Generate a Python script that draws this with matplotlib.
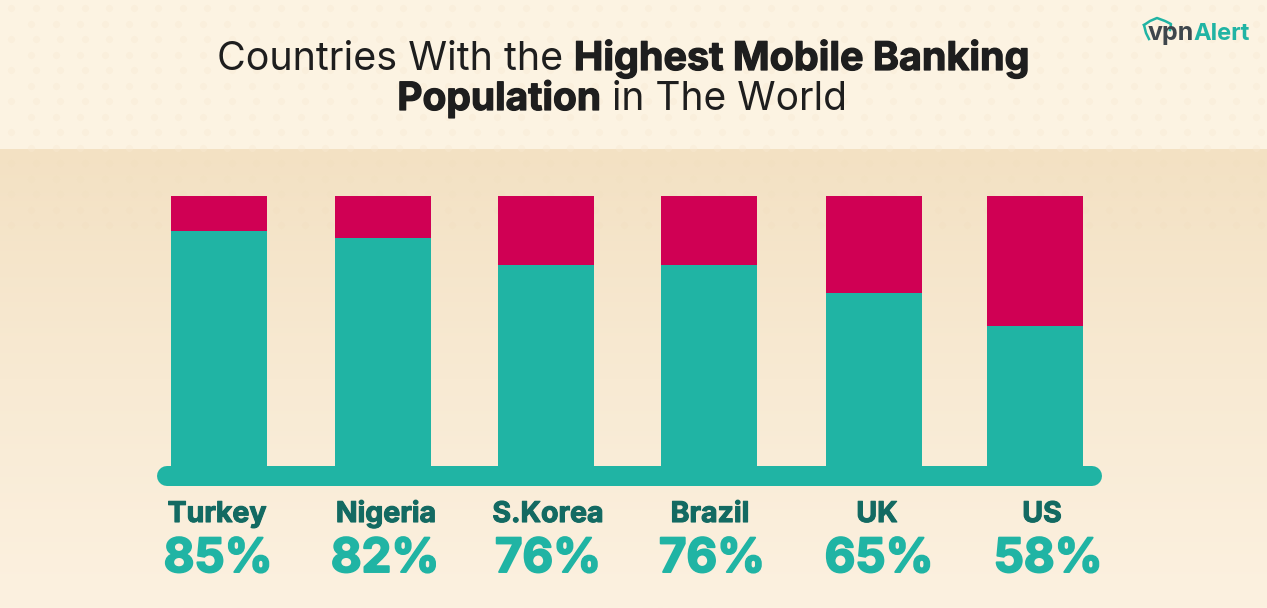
import matplotlib
matplotlib.use("Agg")
import matplotlib.pyplot as plt
import numpy as np
import matplotlib.patheffects as pe
from matplotlib.colors import LinearSegmentedColormap

countries = ["Turkey", "Nigeria", "S.Korea", "Brazil", "UK", "US"]
labels = ["85%", "82%", "76%", "76%", "65%", "58%"]
# bar heights as drawn in the picture (share of the full column)
teal_heights = [87.0, 84.6, 74.4, 74.4, 64.0, 51.9]
red_heights = [13.0, 15.4, 25.6, 25.6, 36.0, 48.1]

TEAL = "#20B4A4"
RED = "#D00054"
DARK_TEAL = "#136A62"
INK = "#1E1E1E"
FONT = "Inter"

bar_centers = [219, 383, 546, 709, 874, 1035]
label_centers = [217, 386, 548, 710, 877, 1042]
pct_centers = [219, 386, 549, 713, 880, 1049]

W, H = 1267, 608
fig = plt.figure(figsize=(W / 100, H / 100), dpi=100)
bg = fig.add_axes([0, 0, 1, 1])
bg.axis("off")

bg.add_patch(plt.Rectangle((0, 0), W, 149, color="#FCF3E2", lw=0, zorder=0))
cmap = LinearSegmentedColormap.from_list("sand", ["#F3E1C3", "#F8EAD3", "#FCF1E0"])
bg.imshow(np.linspace(0, 1, 256).reshape(-1, 1), extent=(0, W, H, 149), aspect="auto",
          cmap=cmap, zorder=0)
bg.set_xlim(0, W)
bg.set_ylim(H, 0)

# faint dot texture
dx, dy = [], []
for r, yy in enumerate(np.arange(8, 240, 15.5)):
    for xx in np.arange(11 + (r % 2) * 20, W, 24.5):
        dx.append(xx)
        dy.append(yy)
dx, dy = np.array(dx), np.array(dy)
top = dy < 149
bg.scatter(dx[top], dy[top], s=26, color="#F9EAD3", alpha=0.4, lw=0, zorder=1)
bg.scatter(dx[~top], dy[~top], s=26, color="#F1DDBC", alpha=0.2, lw=0, zorder=1)

# stacked columns
chart = fig.add_axes([0, (H - 466) / H, 1, (466 - 196) / H])
chart.patch.set_alpha(0)
chart.set_xlim(0, W)
chart.set_ylim(0, 100)
chart.axis("off")
chart.bar(bar_centers, teal_heights, width=96, color=TEAL, lw=0)
chart.bar(bar_centers, red_heights, width=96, bottom=teal_heights, color=RED, lw=0)

# base rail
bg.plot([167, 1092], [476, 476], color=TEAL, lw=14.4, solid_capstyle="round", zorder=3)


def thick(w, color):
    return [pe.withStroke(linewidth=w, foreground=color)]


def run_line(parts, cx, y, size):
    renderer = fig.canvas.get_renderer()
    arts = []
    for s, w, stroke in parts:
        a = bg.text(0, y, s, fontsize=size, fontweight=w, color=INK, family=FONT,
                    va="baseline", ha="left", zorder=5)
        if stroke:
            a.set_path_effects(thick(stroke, INK))
        arts.append(a)
    widths = [a.get_window_extent(renderer).width for a in arts]
    x = cx - sum(widths) / 2
    for a, wd in zip(arts, widths):
        a.set_x(x)
        x += wd


run_line([("Countries With the ", "normal", 0), ("Highest Mobile Banking", "bold", 0.9)], 623, 70, 28.4)
run_line([("Population", "bold", 0.9), (" in The World", "normal", 0)], 622, 110, 28)

for cx, px, c, l in zip(label_centers, pct_centers, countries, labels):
    bg.text(cx, 522, c, ha="center", va="baseline", fontsize=20.5, fontweight="bold",
            color=DARK_TEAL, family=FONT, zorder=5, path_effects=thick(0.8, DARK_TEAL))
    bg.text(px - 1, 572, l, ha="center", va="baseline", fontsize=34, fontweight="bold",
            color=TEAL, family=FONT, zorder=5, path_effects=thick(1.4, TEAL))

# logo
sx = [1144, 1150, 1157, 1165, 1171, 1170]
sy = [25, 21, 18, 21, 24, 30]
bg.plot(sx, sy, color=TEAL, lw=1.8, zorder=5, solid_joinstyle="round")
bg.plot([1144, 1146, 1149], [25, 33, 39], color=TEAL, lw=1.8, zorder=5)
bg.text(1148, 40, "vpn", fontsize=18, fontweight="bold", color="#3E464C", family=FONT,
        va="baseline", ha="left", zorder=6)
bg.text(1193, 40, "Alert", fontsize=17, fontweight="bold", color=TEAL, family=FONT,
        va="baseline", ha="left", zorder=6)

fig.savefig("out.png", dpi=100)
